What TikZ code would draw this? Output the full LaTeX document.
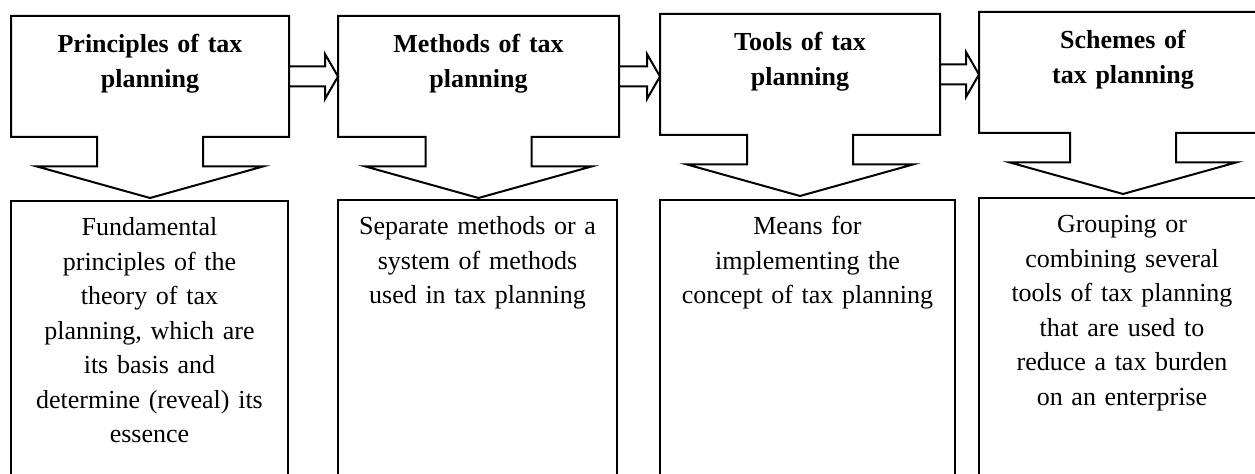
\documentclass[tikz,border=0pt]{standalone}
\usepackage{fontspec}
\setmainfont{Liberation Serif}
\usepackage{tikz}
\usetikzlibrary{calc}
\usetikzlibrary{positioning}

\begin{document}
\begin{tikzpicture}
[
	x = 0.5pt, y = -0.5pt,
	line width = 1pt,
	stage/.style = {rectangle, align = center, inner sep = 3pt, outer sep = 0pt, text height = 15.5pt, text depth = 39pt, font = \fontsize{13}{17.5}\selectfont\bfseries},
	detail/.style = {rectangle, draw, align = center, inner sep = 3pt, outer sep = 0pt, text height = 14.5pt, text depth = 150pt, font = \fontsize{13}{17.25}\selectfont, anchor = north west},
	stageframe/.style = {draw, line join = miter},
	pipe/.style = {draw, fill = white, line join = miter},
]

	\useasboundingbox (0,0) rectangle (1255,474);
	\clip (0,0) rectangle (1255,474);

	% stages
	\node (P1) [stage, text width = 133pt, anchor = north west] at (11,16) {Principles of tax\\planning};
	\node (P2) [stage, text width = 134.5pt, right = 24.5pt of P1] {Methods of tax\\planning};
	\node (P3) [stage, text width = 134pt, right = 20.5pt of P2, yshift = 1pt] {Tools of tax\\planning};
	\node (P4) [stage, text width = 138pt, right = 19.5pt of P3, yshift = 1pt] {Schemes of\\tax planning};

	% callout outlines
	\draw [stageframe] (P1.north west) -- (P1.north east) -- (P1.south east)
		-- ([xshift = 26.5pt] P1.south) -- ([xshift = 26.5pt, yshift = -14.75pt] P1.south)
		-- ([xshift = 56.5pt, yshift = -14.75pt] P1.south) -- ([yshift = -30.5pt] P1.south)
		-- ([xshift = -56.5pt, yshift = -14.75pt] P1.south) -- ([xshift = -26.5pt, yshift = -14.75pt] P1.south)
		-- ([xshift = -26.5pt] P1.south) -- (P1.south west) -- cycle;
	%
	\draw [stageframe] (P2.north west) -- (P2.north east) -- (P2.south east)
		-- ([xshift = 26.5pt] P2.south) -- ([xshift = 26.5pt, yshift = -14.75pt] P2.south)
		-- ([xshift = 56.5pt, yshift = -14.75pt] P2.south) -- ([yshift = -30.5pt] P2.south)
		-- ([xshift = -56.5pt, yshift = -14.75pt] P2.south) -- ([xshift = -26.5pt, yshift = -14.75pt] P2.south)
		-- ([xshift = -26.5pt] P2.south) -- (P2.south west) -- cycle;
	%
	\draw [stageframe] (P3.north west) -- (P3.north east) -- (P3.south east)
		-- ([xshift = 26.5pt] P3.south) -- ([xshift = 26.5pt, yshift = -14.75pt] P3.south)
		-- ([xshift = 56.5pt, yshift = -14.75pt] P3.south) -- ([yshift = -30.5pt] P3.south)
		-- ([xshift = -56.5pt, yshift = -14.75pt] P3.south) -- ([xshift = -26.5pt, yshift = -14.75pt] P3.south)
		-- ([xshift = -26.5pt] P3.south) -- (P3.south west) -- cycle;
	%
	\draw [stageframe] (P4.north west) -- (P4.north east) -- (P4.south east)
		-- ([xshift = 26.5pt] P4.south) -- ([xshift = 26.5pt, yshift = -14.75pt] P4.south)
		-- ([xshift = 56.5pt, yshift = -14.75pt] P4.south) -- ([yshift = -30.5pt] P4.south)
		-- ([xshift = -56.5pt, yshift = -14.75pt] P4.south) -- ([xshift = -26.5pt, yshift = -14.75pt] P4.south)
		-- ([xshift = -26.5pt] P4.south) -- (P4.south west) -- cycle;

	% details
	\node (D1) [detail, text width = 132.5pt] at ([yshift = -32pt] P1.south west)
		{Fundamental\\principles of the\\theory of tax\\planning, which are\\its basis and\\determine (reveal) its\\essence};
	\node (D2) [detail, text width = 133.5pt] at ([yshift = -31.5pt] P2.south west)
		{Separate methods or a\\system of methods\\used in tax planning};
	\node (D3) [detail, text width = 141.5pt] at ([yshift = -32.5pt] P3.south west)
		{Means for\\implementing the\\concept of tax planning};
	\node (D4) [detail, text width = 137pt] at ([yshift = -32.5pt] P4.south west)
		{Grouping or\\combining several\\tools of tax planning\\that are used to\\reduce a tax burden\\on an enterprise};

	% block arrows
	\draw [pipe] let \p1 = (P1.east), \p2 = (P2.west) in
		(\x1, \y1 + 5pt) -- (\x2 - 6.5pt, \y1 + 5pt) -- (\x2 - 6.5pt, \y1 + 11.25pt) -- (\x2, \y1)
		-- (\x2 - 6.5pt, \y1 - 11.25pt) -- (\x2 - 6.5pt, \y1 - 5pt) -- (\x1, \y1 - 5pt) -- cycle;
	\draw [pipe] let \p1 = (P2.east), \p2 = (P3.west) in
		(\x1, \y1 + 5pt) -- (\x2 - 6.5pt, \y1 + 5pt) -- (\x2 - 6.5pt, \y1 + 11.25pt) -- (\x2, \y1)
		-- (\x2 - 6.5pt, \y1 - 11.25pt) -- (\x2 - 6.5pt, \y1 - 5pt) -- (\x1, \y1 - 5pt) -- cycle;
	\draw [pipe] let \p1 = (P3.east), \p2 = (P4.west) in
		(\x1, \y1 + 5pt) -- (\x2 - 6.5pt, \y1 + 5pt) -- (\x2 - 6.5pt, \y1 + 11.25pt) -- (\x2, \y1)
		-- (\x2 - 6.5pt, \y1 - 11.25pt) -- (\x2 - 6.5pt, \y1 - 5pt) -- (\x1, \y1 - 5pt) -- cycle;

\end{tikzpicture}
\end{document}
